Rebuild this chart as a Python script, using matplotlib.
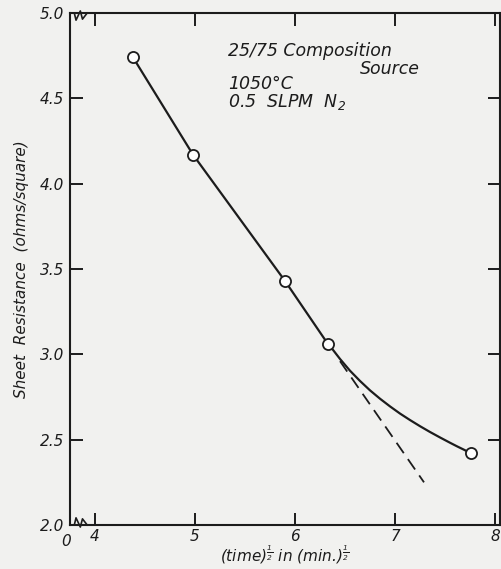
import numpy as np
import matplotlib as mpl
import matplotlib.pyplot as plt

mpl.rcParams['font.family'] = ['DejaVu Sans']
mpl.rcParams['mathtext.fontset'] = 'custom'
mpl.rcParams['mathtext.it'] = 'DejaVu Sans:italic'
mpl.rcParams['mathtext.rm'] = 'DejaVu Sans:italic'

# measured points
sqrt_t = [4.38, 4.98, 5.90, 6.33, 7.76]
rs = [4.74, 4.17, 3.43, 3.06, 2.42]

# hand drawn smooth curve
curve_x = [4.38, 4.98, 5.90, 6.33, 6.38, 6.45, 6.55, 6.65, 6.75, 6.85, 6.95,
           7.05, 7.15, 7.25, 7.35, 7.45, 7.55, 7.62, 7.69, 7.76]
curve_y = [4.74, 4.17, 3.43, 3.06, 3.026, 2.973, 2.904, 2.844, 2.789, 2.740, 2.695,
           2.653, 2.615, 2.579, 2.545, 2.513, 2.482, 2.461, 2.441, 2.42]

# dashed extrapolation of the linear part
dash_x = [6.45, 7.29]
dash_y = [2.96, 2.25]

ink = '#1c1c1c'
bg = '#f1f1ef'

fig = plt.figure(figsize=(5.01, 5.69), dpi=100, facecolor=bg)
ax = fig.add_axes([70/501, 1-525/569, 430/501, 512/569], facecolor=bg)

ax.plot(curve_x, curve_y, color=ink, lw=1.6, zorder=3)
ax.plot(dash_x, dash_y, color=ink, lw=1.3, dashes=(7, 4), zorder=3)
ax.plot(sqrt_t, rs, 'o', ms=8, mfc='white', mec=ink, mew=1.3, zorder=4)

ax.set_xlim(3.75, 8.05)
ax.set_ylim(2.0, 5.0)
ax.set_xticks([4, 5, 6, 7, 8])
ax.set_yticks([2.0, 2.5, 3.0, 3.5, 4.0, 4.5, 5.0])
ax.set_yticklabels(['2.0', '2.5', '3.0', '3.5', '4.0', '4.5', '5.0'])
ax.tick_params(direction='in', length=9, width=1.4, colors=ink,
               labelsize=11, top=True, right=True, pad=3)
ax.tick_params(axis='y', pad=4)
for lab in ax.get_xticklabels() + ax.get_yticklabels():
    lab.set_style('italic')
for sp in ax.spines.values():
    sp.set_color(ink)
    sp.set_linewidth(1.5)

# axis break marks near the origin
zx = np.array([0.010, 0.014, 0.024, 0.029, 0.040])
zy = np.array([0.0, 0.014, -0.004, 0.012, 0.0])
ax.plot(zx, zy, color=ink, lw=1.2, transform=ax.transAxes, clip_on=False)
ax.plot(zx, 1 - zy, color=ink, lw=1.2, transform=ax.transAxes, clip_on=False)
ax.text(-0.01, -0.018, '0', transform=ax.transAxes, ha='center', va='top',
        fontsize=11, style='italic', color=ink)

ax.set_ylabel('Sheet  Resistance  (ohms/square)', fontsize=11, style='italic',
              color=ink, labelpad=8)
fig.text(285/501, 1-555/569, r'(time)$^{\frac{1}{2}}$ in (min.)$^{\frac{1}{2}}$',
         fontsize=11, style='italic', color=ink, ha='center', va='center')

ax.text(5.33, 4.75, '25/75 Composition', fontsize=12.5, style='italic', color=ink)
ax.text(7.25, 4.645, 'Source', fontsize=12.5, style='italic', color=ink, ha='right')
ax.text(5.33, 4.555, '1050°C', fontsize=12.5, style='italic', color=ink)
ax.text(5.33, 4.45, r'0.5  SLPM  N$_2$', fontsize=12.5, style='italic', color=ink)

fig.savefig('out.png', dpi=100, facecolor=bg)
